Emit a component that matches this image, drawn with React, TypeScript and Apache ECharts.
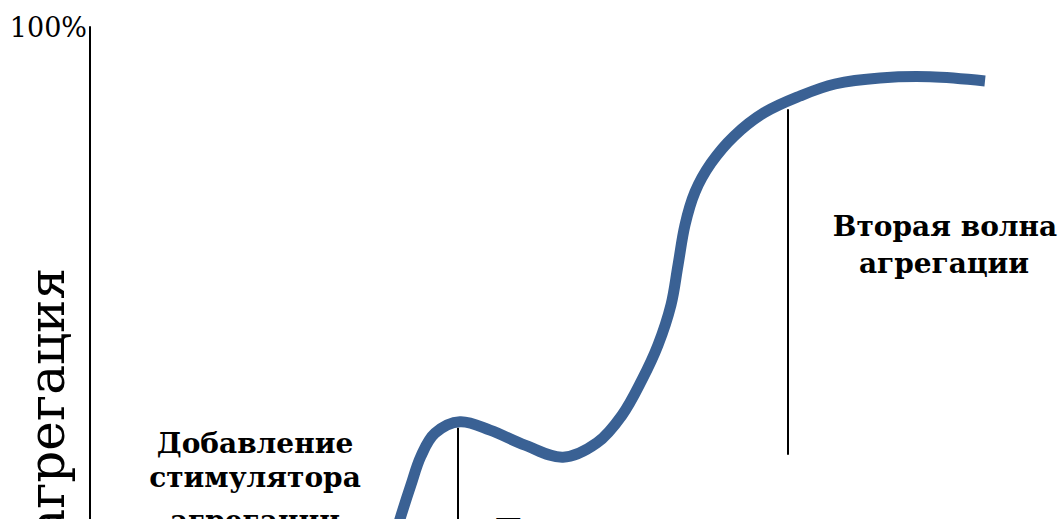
import React, { useEffect, useRef } from "react";
import * as echarts from "echarts";

// Aggregation curve: x = time (arbitrary units), y = aggregation (%)
const curveX = [298, 310, 321, 331, 345, 370, 400, 435, 473, 507, 532, 552, 568, 581, 588, 595, 605, 621, 644, 674, 710, 745, 790, 840, 895];
const curveY = [11.2, 18.0, 23.7, 28.5, 32.3, 34.2, 32.8, 30.3, 28.3, 30.7, 35.3, 41.2, 47.0, 53.7, 60.3, 67.0, 72.5, 77.3, 81.8, 85.7, 88.5, 90.5, 91.5, 91.7, 91.0];

// Vertical marker lines: [x, yTop, yBottom]
const markerStimulus = [368, 33.2, 0];
const markerSecondWave = [698, 86.3, 28.7];

const yTickLabels: Record<number, string> = { 100: "100%" };
const yAxisTitle = "агрегация";
const labelSecondWave = ["Вторая волна", "агрегации"];
const labelStimulus = ["Добавление", "стимулятора", "агрегации"];
const labelFirstWave = "Первая волна";

const SERIF = '"DejaVu Serif", serif';

export default function App() {
  const ref = useRef<HTMLDivElement>(null);
  useEffect(() => {
    if (!ref.current) return;
    const chart = echarts.init(ref.current, undefined, { renderer: "svg" });
    const boldText = (text: string, x: number, y: number, align: string) => ({
      type: "text",
      x,
      y,
      silent: true,
      style: {
        text,
        fill: "#000",
        font: `bold 28px ${SERIF}`,
        align,
        textAlign: align,
        verticalAlign: "middle",
        textVerticalAlign: "middle",
      },
    });
    const curveData = curveX.map((x, i) => [x, curveY[i]]);
    chart.setOption({
      animation: false,
      backgroundColor: "#fff",
      grid: { left: 90, right: 0, top: 27, bottom: 33 },
      xAxis: {
        type: "value",
        min: 0,
        max: 968,
        show: false,
      },
      yAxis: {
        type: "value",
        min: 0,
        max: 100,
        interval: 100,
        axisLine: { show: true, lineStyle: { color: "#000", width: 2 } },
        axisTick: { show: false },
        splitLine: { show: false },
        axisLabel: {
          margin: 3,
          color: "#000",
          fontFamily: SERIF,
          fontSize: 27,
          formatter: (v: number) => yTickLabels[v] ?? "",
        },
      },
      series: [
        {
          type: "line",
          data: [
            [markerStimulus[0], markerStimulus[1]],
            [markerStimulus[0], markerStimulus[2]],
          ],
          symbol: "none",
          lineStyle: { color: "#000", width: 2 },
          z: 1,
        },
        {
          type: "line",
          data: [
            [markerSecondWave[0], markerSecondWave[1]],
            [markerSecondWave[0], markerSecondWave[2]],
          ],
          symbol: "none",
          lineStyle: { color: "#000", width: 2 },
          z: 1,
        },
        {
          type: "custom",
          data: curveData,
          encode: { x: 0, y: 1 },
          z: 2,
          silent: true,
          renderItem: (params: any, api: any) => {
            if (params.dataIndex !== 0) return null;
            const points = curveData.map((d) => api.coord(d));
            return {
              type: "polyline",
              shape: { points, smooth: 0.35 },
              style: {
                stroke: "#3A6194",
                lineWidth: 11,
                fill: null,
                lineCap: "butt",
                lineJoin: "round",
              },
            };
          },
        },
      ],
      graphic: [
        {
          type: "text",
          x: 47,
          y: 268,
          rotation: Math.PI / 2,
          silent: true,
          style: {
            text: yAxisTitle,
            fill: "#000",
            font: `50px ${SERIF}`,
            align: "right",
            textAlign: "right",
            verticalAlign: "middle",
            textVerticalAlign: "middle",
          },
        },
        boldText(labelSecondWave[0], 945, 226, "center"),
        boldText(labelSecondWave[1], 944, 263, "center"),
        boldText(labelStimulus[0], 255, 443, "center"),
        boldText(labelStimulus[1], 255, 477, "center"),
        boldText(labelStimulus[2], 255, 520, "center"),
        boldText(labelFirstWave, 495, 529, "left"),
      ],
    });
    return () => chart.dispose();
  }, []);
  return (
    <div
      ref={ref}
      style={{ position: "fixed", left: 0, top: 0, width: 1058, height: 660, background: "#fff" }}
    />
  );
}
